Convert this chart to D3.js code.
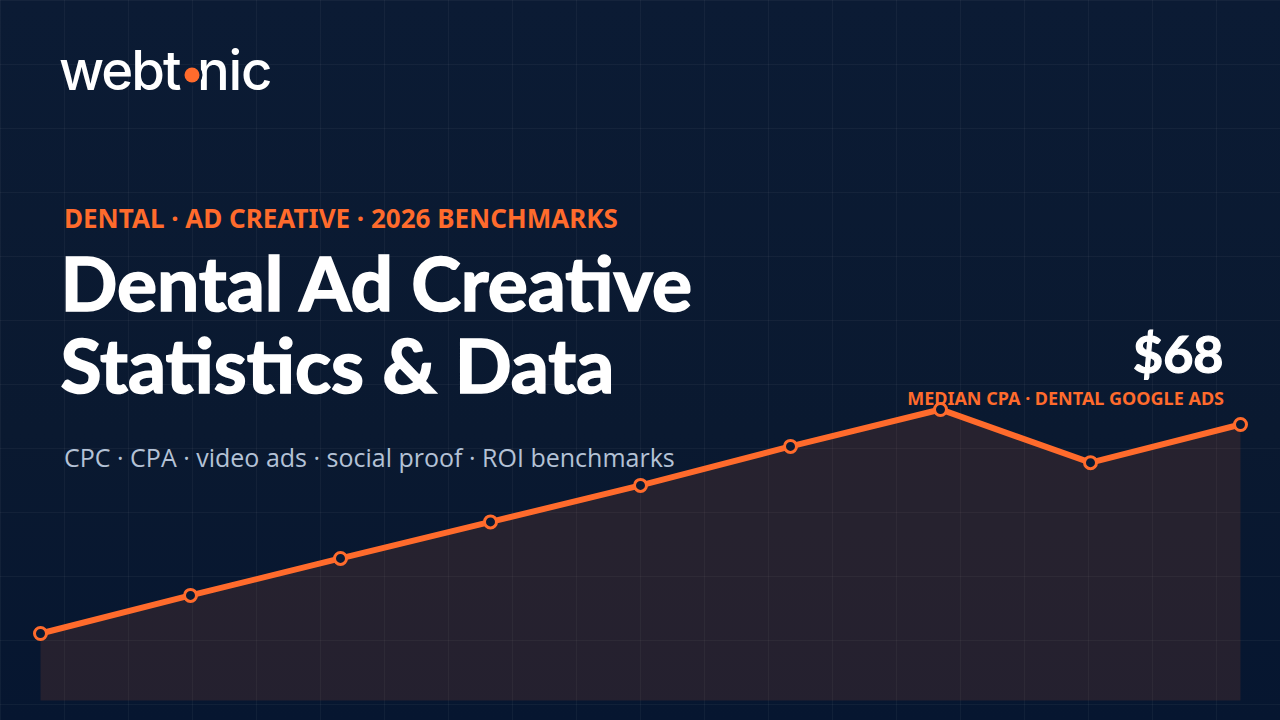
<!DOCTYPE html>
<html><head><meta charset="utf-8">
<script src="https://cdn.jsdelivr.net/npm/d3@7"></script>
<style>html,body{margin:0;padding:0;background:#0a1a33;overflow:hidden}svg{display:block}</style>
</head><body><svg id="c" width="1280" height="720"></svg>
<script>
const periods = ["P1","P2","P3","P4","P5","P6","P7","P8","P9"];
const cpaValues = [16.5,25.9,35,44,53,62.6,71.7,58.6,68];
const eyebrow = "DENTAL · AD CREATIVE · 2026 BENCHMARKS";
const titleLines = ["Dental Ad Creative","Statistics & Data"];
const subtitle = "CPC · CPA · video ads · social proof · ROI benchmarks";
const statValue = "$68";
const statLabel = "MEDIAN CPA · DENTAL GOOGLE ADS";
const W=1280,H=720,orange="#ff6b2c";
const svg=d3.select("#c");
const defs=svg.append("defs");
const bg=defs.append("linearGradient").attr("id","bg").attr("x1",0).attr("y1",0).attr("x2",0).attr("y2",1);
bg.append("stop").attr("offset",0).attr("stop-color","#0b1b34");
bg.append("stop").attr("offset",0.6).attr("stop-color","#0a1930");
bg.append("stop").attr("offset",1).attr("stop-color","#061630");
svg.append("rect").attr("width",W).attr("height",H).attr("fill","url(#bg)");
const grid=svg.append("g").attr("stroke","#fff").attr("stroke-opacity",0.045).attr("stroke-width",1);
d3.range(0,W,64).forEach(x=>grid.append("line").attr("x1",x+.5).attr("x2",x+.5).attr("y1",0).attr("y2",H));
d3.range(0,H,64).forEach(y=>grid.append("line").attr("y1",y+.5).attr("y2",y+.5).attr("x1",0).attr("x2",W));
const x=d3.scalePoint().domain(periods).range([40.5,1240.5]);
const y=d3.scaleLinear().domain([0,68]).range([700.5,424.5]);
const area=d3.area().x((d,i)=>x(periods[i])).y0(y(0)).y1(d=>y(d));
const line=d3.line().x((d,i)=>x(periods[i])).y(d=>y(d));
svg.append("path").datum(cpaValues).attr("d",area).attr("fill",orange).attr("fill-opacity",0.12);
svg.append("path").datum(cpaValues).attr("d",line).attr("fill","none").attr("stroke",orange).attr("stroke-width",6);
svg.selectAll("circle.pt").data(cpaValues).join("circle").attr("class","pt")
 .attr("cx",(d,i)=>x(periods[i])).attr("cy",d=>y(d)).attr("r",6).attr("fill","#0a1a33").attr("stroke",orange).attr("stroke-width",3);
// logo
const logo=svg.append("g").attr("font-family","Inter").attr("font-weight",500).attr("font-size",54.5).attr("fill","#fff");
logo.append("text").attr("x",59).attr("y",90).attr("letter-spacing",-2).text("webt");
logo.append("text").attr("x",197).attr("y",90).attr("letter-spacing",-1.2).text("nic");
svg.append("circle").attr("cx",192).attr("cy",75).attr("r",10.5).attr("fill","#0b1b34");
svg.append("circle").attr("cx",192).attr("cy",75).attr("r",7.5).attr("fill",orange);
svg.append("text").attr("x",64).attr("y",228).attr("font-family","Noto Sans").attr("font-weight",700).attr("font-size",26).attr("fill",orange).text(eyebrow);
svg.selectAll("text.t").data(titleLines).join("text").attr("class","t").attr("x",60.5).attr("y",(d,i)=>311+i*82)
 .attr("font-family","Lato").attr("font-weight",700).attr("font-size",75).attr("fill","#fff").attr("stroke","#fff").attr("stroke-width",1.6).text(d=>d);
svg.append("text").attr("x",64).attr("y",467).attr("font-family","Open Sans").attr("font-size",25).attr("fill","#b4c2d6").text(subtitle);
svg.append("text").attr("x",1223.5).attr("y",373).attr("text-anchor","end").attr("font-family","Lato").attr("font-weight",700).attr("font-size",52).attr("fill","#fff").attr("stroke","#fff").attr("stroke-width",1.2).text(statValue);
svg.append("text").attr("x",1224).attr("y",405).attr("text-anchor","end").attr("font-family","Noto Sans").attr("font-weight",700).attr("font-size",18).attr("fill",orange).text(statLabel);
</script></body></html>
